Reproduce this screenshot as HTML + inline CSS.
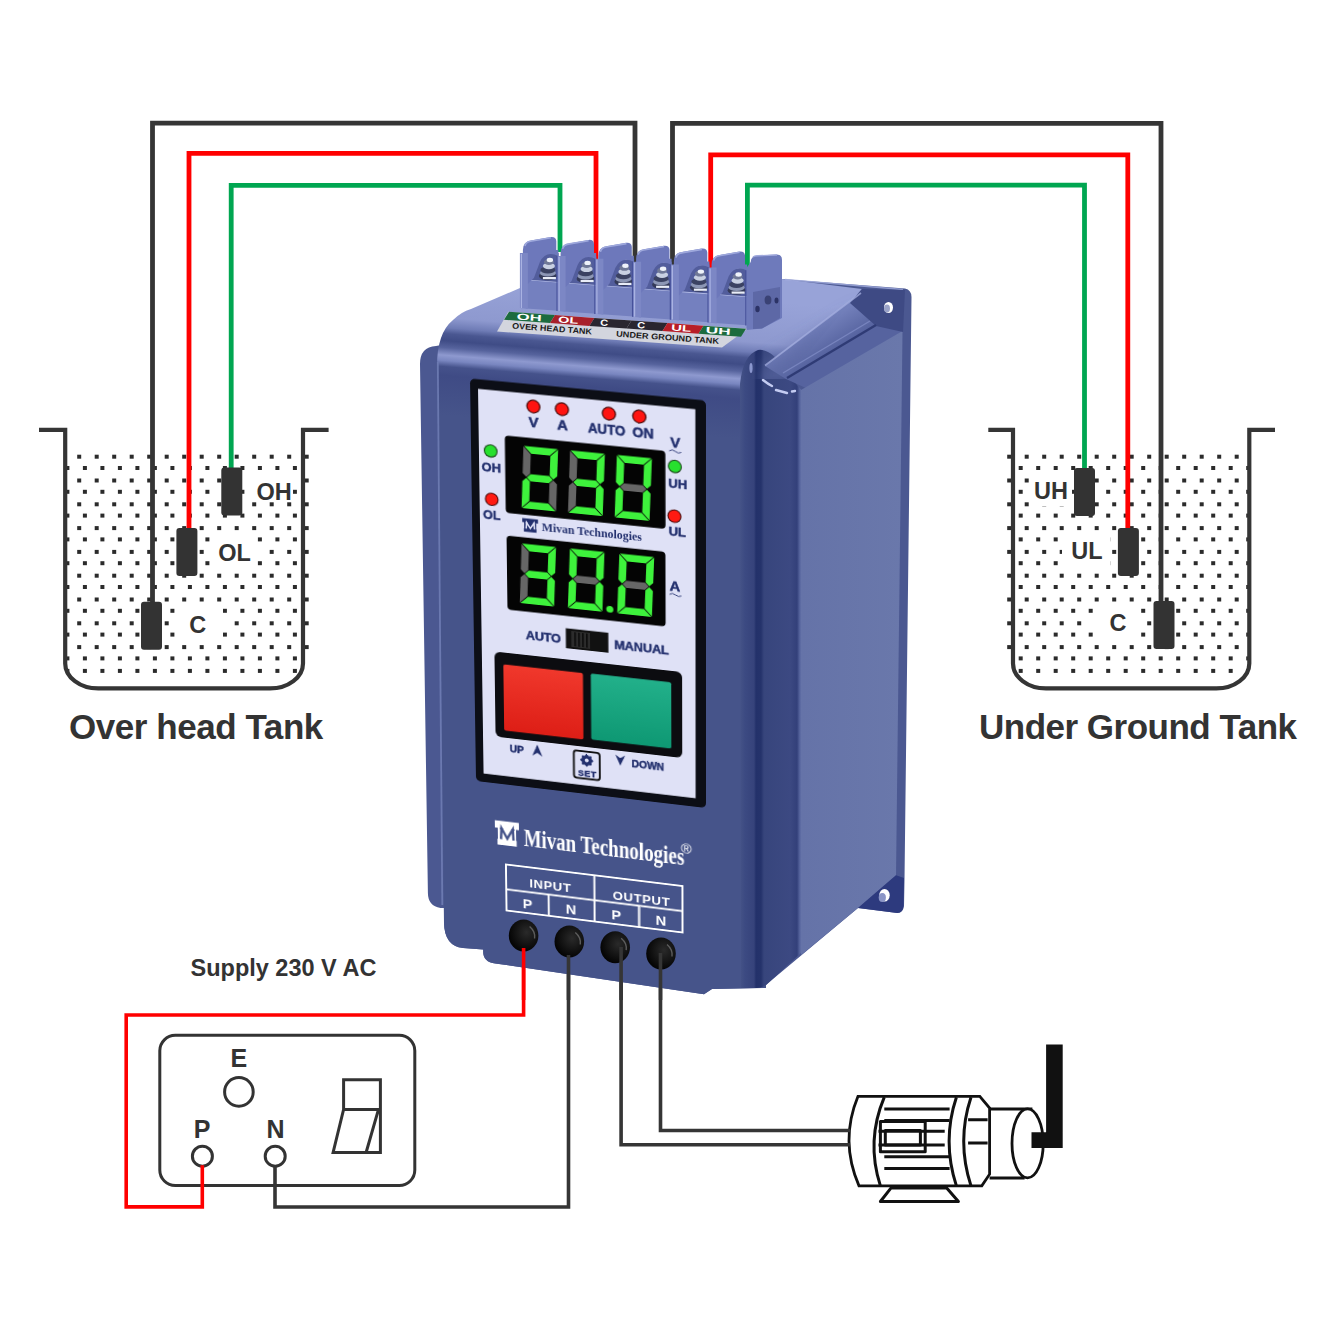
<!DOCTYPE html>
<html><head><meta charset="utf-8"><style>
html,body{margin:0;padding:0;background:#fff;width:1334px;height:1334px;overflow:hidden}
.abs{position:absolute;left:0;top:0}
text{font-family:'Liberation Sans',sans-serif}
text.serif{font-family:'Liberation Serif',serif}
</style></head><body>
<svg class="abs" width="1334" height="1334" viewBox="0 0 1334 1334">
<clipPath id="clipL"><path d="M65.2,440 V662.4 A33 25 0 0 0 99.2,686.4 H269 A33 25 0 0 0 309,662.4 V440 Z"/></clipPath>
<g fill="#2b2b2b" clip-path="url(#clipL)"><rect x="59.7" y="454.7" width="4" height="4"/><rect x="77.2" y="454.7" width="4" height="4"/><rect x="94.7" y="454.7" width="4" height="4"/><rect x="112.2" y="454.7" width="4" height="4"/><rect x="129.7" y="454.7" width="4" height="4"/><rect x="147.2" y="454.7" width="4" height="4"/><rect x="164.7" y="454.7" width="4" height="4"/><rect x="182.2" y="454.7" width="4" height="4"/><rect x="199.7" y="454.7" width="4" height="4"/><rect x="217.2" y="454.7" width="4" height="4"/><rect x="234.7" y="454.7" width="4" height="4"/><rect x="252.2" y="454.7" width="4" height="4"/><rect x="269.7" y="454.7" width="4" height="4"/><rect x="287.2" y="454.7" width="4" height="4"/><rect x="304.7" y="454.7" width="4" height="4"/><rect x="65.4" y="466.0" width="4" height="4"/><rect x="82.9" y="466.0" width="4" height="4"/><rect x="100.4" y="466.0" width="4" height="4"/><rect x="117.9" y="466.0" width="4" height="4"/><rect x="135.4" y="466.0" width="4" height="4"/><rect x="152.9" y="466.0" width="4" height="4"/><rect x="170.4" y="466.0" width="4" height="4"/><rect x="187.9" y="466.0" width="4" height="4"/><rect x="205.4" y="466.0" width="4" height="4"/><rect x="222.9" y="466.0" width="4" height="4"/><rect x="240.4" y="466.0" width="4" height="4"/><rect x="257.9" y="466.0" width="4" height="4"/><rect x="275.4" y="466.0" width="4" height="4"/><rect x="292.9" y="466.0" width="4" height="4"/><rect x="310.4" y="466.0" width="4" height="4"/><rect x="59.7" y="478.5" width="4" height="4"/><rect x="77.2" y="478.5" width="4" height="4"/><rect x="94.7" y="478.5" width="4" height="4"/><rect x="112.2" y="478.5" width="4" height="4"/><rect x="129.7" y="478.5" width="4" height="4"/><rect x="147.2" y="478.5" width="4" height="4"/><rect x="164.7" y="478.5" width="4" height="4"/><rect x="182.2" y="478.5" width="4" height="4"/><rect x="199.7" y="478.5" width="4" height="4"/><rect x="217.2" y="478.5" width="4" height="4"/><rect x="234.7" y="478.5" width="4" height="4"/><rect x="252.2" y="478.5" width="4" height="4"/><rect x="269.7" y="478.5" width="4" height="4"/><rect x="287.2" y="478.5" width="4" height="4"/><rect x="304.7" y="478.5" width="4" height="4"/><rect x="65.4" y="489.8" width="4" height="4"/><rect x="82.9" y="489.8" width="4" height="4"/><rect x="100.4" y="489.8" width="4" height="4"/><rect x="117.9" y="489.8" width="4" height="4"/><rect x="135.4" y="489.8" width="4" height="4"/><rect x="152.9" y="489.8" width="4" height="4"/><rect x="170.4" y="489.8" width="4" height="4"/><rect x="187.9" y="489.8" width="4" height="4"/><rect x="205.4" y="489.8" width="4" height="4"/><rect x="222.9" y="489.8" width="4" height="4"/><rect x="240.4" y="489.8" width="4" height="4"/><rect x="257.9" y="489.8" width="4" height="4"/><rect x="275.4" y="489.8" width="4" height="4"/><rect x="292.9" y="489.8" width="4" height="4"/><rect x="310.4" y="489.8" width="4" height="4"/><rect x="59.7" y="502.3" width="4" height="4"/><rect x="77.2" y="502.3" width="4" height="4"/><rect x="94.7" y="502.3" width="4" height="4"/><rect x="112.2" y="502.3" width="4" height="4"/><rect x="129.7" y="502.3" width="4" height="4"/><rect x="147.2" y="502.3" width="4" height="4"/><rect x="164.7" y="502.3" width="4" height="4"/><rect x="182.2" y="502.3" width="4" height="4"/><rect x="199.7" y="502.3" width="4" height="4"/><rect x="217.2" y="502.3" width="4" height="4"/><rect x="234.7" y="502.3" width="4" height="4"/><rect x="252.2" y="502.3" width="4" height="4"/><rect x="269.7" y="502.3" width="4" height="4"/><rect x="287.2" y="502.3" width="4" height="4"/><rect x="304.7" y="502.3" width="4" height="4"/><rect x="65.4" y="513.6" width="4" height="4"/><rect x="82.9" y="513.6" width="4" height="4"/><rect x="100.4" y="513.6" width="4" height="4"/><rect x="117.9" y="513.6" width="4" height="4"/><rect x="135.4" y="513.6" width="4" height="4"/><rect x="152.9" y="513.6" width="4" height="4"/><rect x="170.4" y="513.6" width="4" height="4"/><rect x="187.9" y="513.6" width="4" height="4"/><rect x="205.4" y="513.6" width="4" height="4"/><rect x="222.9" y="513.6" width="4" height="4"/><rect x="240.4" y="513.6" width="4" height="4"/><rect x="257.9" y="513.6" width="4" height="4"/><rect x="275.4" y="513.6" width="4" height="4"/><rect x="292.9" y="513.6" width="4" height="4"/><rect x="310.4" y="513.6" width="4" height="4"/><rect x="59.7" y="526.1" width="4" height="4"/><rect x="77.2" y="526.1" width="4" height="4"/><rect x="94.7" y="526.1" width="4" height="4"/><rect x="112.2" y="526.1" width="4" height="4"/><rect x="129.7" y="526.1" width="4" height="4"/><rect x="147.2" y="526.1" width="4" height="4"/><rect x="164.7" y="526.1" width="4" height="4"/><rect x="182.2" y="526.1" width="4" height="4"/><rect x="199.7" y="526.1" width="4" height="4"/><rect x="217.2" y="526.1" width="4" height="4"/><rect x="234.7" y="526.1" width="4" height="4"/><rect x="252.2" y="526.1" width="4" height="4"/><rect x="269.7" y="526.1" width="4" height="4"/><rect x="287.2" y="526.1" width="4" height="4"/><rect x="304.7" y="526.1" width="4" height="4"/><rect x="65.4" y="537.4" width="4" height="4"/><rect x="82.9" y="537.4" width="4" height="4"/><rect x="100.4" y="537.4" width="4" height="4"/><rect x="117.9" y="537.4" width="4" height="4"/><rect x="135.4" y="537.4" width="4" height="4"/><rect x="152.9" y="537.4" width="4" height="4"/><rect x="170.4" y="537.4" width="4" height="4"/><rect x="187.9" y="537.4" width="4" height="4"/><rect x="205.4" y="537.4" width="4" height="4"/><rect x="222.9" y="537.4" width="4" height="4"/><rect x="240.4" y="537.4" width="4" height="4"/><rect x="257.9" y="537.4" width="4" height="4"/><rect x="275.4" y="537.4" width="4" height="4"/><rect x="292.9" y="537.4" width="4" height="4"/><rect x="310.4" y="537.4" width="4" height="4"/><rect x="59.7" y="549.9" width="4" height="4"/><rect x="77.2" y="549.9" width="4" height="4"/><rect x="94.7" y="549.9" width="4" height="4"/><rect x="112.2" y="549.9" width="4" height="4"/><rect x="129.7" y="549.9" width="4" height="4"/><rect x="147.2" y="549.9" width="4" height="4"/><rect x="164.7" y="549.9" width="4" height="4"/><rect x="182.2" y="549.9" width="4" height="4"/><rect x="199.7" y="549.9" width="4" height="4"/><rect x="217.2" y="549.9" width="4" height="4"/><rect x="234.7" y="549.9" width="4" height="4"/><rect x="252.2" y="549.9" width="4" height="4"/><rect x="269.7" y="549.9" width="4" height="4"/><rect x="287.2" y="549.9" width="4" height="4"/><rect x="304.7" y="549.9" width="4" height="4"/><rect x="65.4" y="561.2" width="4" height="4"/><rect x="82.9" y="561.2" width="4" height="4"/><rect x="100.4" y="561.2" width="4" height="4"/><rect x="117.9" y="561.2" width="4" height="4"/><rect x="135.4" y="561.2" width="4" height="4"/><rect x="152.9" y="561.2" width="4" height="4"/><rect x="170.4" y="561.2" width="4" height="4"/><rect x="187.9" y="561.2" width="4" height="4"/><rect x="205.4" y="561.2" width="4" height="4"/><rect x="222.9" y="561.2" width="4" height="4"/><rect x="240.4" y="561.2" width="4" height="4"/><rect x="257.9" y="561.2" width="4" height="4"/><rect x="275.4" y="561.2" width="4" height="4"/><rect x="292.9" y="561.2" width="4" height="4"/><rect x="310.4" y="561.2" width="4" height="4"/><rect x="59.7" y="573.7" width="4" height="4"/><rect x="77.2" y="573.7" width="4" height="4"/><rect x="94.7" y="573.7" width="4" height="4"/><rect x="112.2" y="573.7" width="4" height="4"/><rect x="129.7" y="573.7" width="4" height="4"/><rect x="147.2" y="573.7" width="4" height="4"/><rect x="164.7" y="573.7" width="4" height="4"/><rect x="182.2" y="573.7" width="4" height="4"/><rect x="199.7" y="573.7" width="4" height="4"/><rect x="217.2" y="573.7" width="4" height="4"/><rect x="234.7" y="573.7" width="4" height="4"/><rect x="252.2" y="573.7" width="4" height="4"/><rect x="269.7" y="573.7" width="4" height="4"/><rect x="287.2" y="573.7" width="4" height="4"/><rect x="304.7" y="573.7" width="4" height="4"/><rect x="65.4" y="585.0" width="4" height="4"/><rect x="82.9" y="585.0" width="4" height="4"/><rect x="100.4" y="585.0" width="4" height="4"/><rect x="117.9" y="585.0" width="4" height="4"/><rect x="135.4" y="585.0" width="4" height="4"/><rect x="152.9" y="585.0" width="4" height="4"/><rect x="170.4" y="585.0" width="4" height="4"/><rect x="187.9" y="585.0" width="4" height="4"/><rect x="205.4" y="585.0" width="4" height="4"/><rect x="222.9" y="585.0" width="4" height="4"/><rect x="240.4" y="585.0" width="4" height="4"/><rect x="257.9" y="585.0" width="4" height="4"/><rect x="275.4" y="585.0" width="4" height="4"/><rect x="292.9" y="585.0" width="4" height="4"/><rect x="310.4" y="585.0" width="4" height="4"/><rect x="59.7" y="597.5" width="4" height="4"/><rect x="77.2" y="597.5" width="4" height="4"/><rect x="94.7" y="597.5" width="4" height="4"/><rect x="112.2" y="597.5" width="4" height="4"/><rect x="129.7" y="597.5" width="4" height="4"/><rect x="147.2" y="597.5" width="4" height="4"/><rect x="164.7" y="597.5" width="4" height="4"/><rect x="182.2" y="597.5" width="4" height="4"/><rect x="199.7" y="597.5" width="4" height="4"/><rect x="217.2" y="597.5" width="4" height="4"/><rect x="234.7" y="597.5" width="4" height="4"/><rect x="252.2" y="597.5" width="4" height="4"/><rect x="269.7" y="597.5" width="4" height="4"/><rect x="287.2" y="597.5" width="4" height="4"/><rect x="304.7" y="597.5" width="4" height="4"/><rect x="65.4" y="608.8" width="4" height="4"/><rect x="82.9" y="608.8" width="4" height="4"/><rect x="100.4" y="608.8" width="4" height="4"/><rect x="117.9" y="608.8" width="4" height="4"/><rect x="135.4" y="608.8" width="4" height="4"/><rect x="152.9" y="608.8" width="4" height="4"/><rect x="170.4" y="608.8" width="4" height="4"/><rect x="187.9" y="608.8" width="4" height="4"/><rect x="205.4" y="608.8" width="4" height="4"/><rect x="222.9" y="608.8" width="4" height="4"/><rect x="240.4" y="608.8" width="4" height="4"/><rect x="257.9" y="608.8" width="4" height="4"/><rect x="275.4" y="608.8" width="4" height="4"/><rect x="292.9" y="608.8" width="4" height="4"/><rect x="310.4" y="608.8" width="4" height="4"/><rect x="59.7" y="621.3" width="4" height="4"/><rect x="77.2" y="621.3" width="4" height="4"/><rect x="94.7" y="621.3" width="4" height="4"/><rect x="112.2" y="621.3" width="4" height="4"/><rect x="129.7" y="621.3" width="4" height="4"/><rect x="147.2" y="621.3" width="4" height="4"/><rect x="164.7" y="621.3" width="4" height="4"/><rect x="182.2" y="621.3" width="4" height="4"/><rect x="199.7" y="621.3" width="4" height="4"/><rect x="217.2" y="621.3" width="4" height="4"/><rect x="234.7" y="621.3" width="4" height="4"/><rect x="252.2" y="621.3" width="4" height="4"/><rect x="269.7" y="621.3" width="4" height="4"/><rect x="287.2" y="621.3" width="4" height="4"/><rect x="304.7" y="621.3" width="4" height="4"/><rect x="65.4" y="632.6" width="4" height="4"/><rect x="82.9" y="632.6" width="4" height="4"/><rect x="100.4" y="632.6" width="4" height="4"/><rect x="117.9" y="632.6" width="4" height="4"/><rect x="135.4" y="632.6" width="4" height="4"/><rect x="152.9" y="632.6" width="4" height="4"/><rect x="170.4" y="632.6" width="4" height="4"/><rect x="187.9" y="632.6" width="4" height="4"/><rect x="205.4" y="632.6" width="4" height="4"/><rect x="222.9" y="632.6" width="4" height="4"/><rect x="240.4" y="632.6" width="4" height="4"/><rect x="257.9" y="632.6" width="4" height="4"/><rect x="275.4" y="632.6" width="4" height="4"/><rect x="292.9" y="632.6" width="4" height="4"/><rect x="310.4" y="632.6" width="4" height="4"/><rect x="59.7" y="645.1" width="4" height="4"/><rect x="77.2" y="645.1" width="4" height="4"/><rect x="94.7" y="645.1" width="4" height="4"/><rect x="112.2" y="645.1" width="4" height="4"/><rect x="129.7" y="645.1" width="4" height="4"/><rect x="147.2" y="645.1" width="4" height="4"/><rect x="164.7" y="645.1" width="4" height="4"/><rect x="182.2" y="645.1" width="4" height="4"/><rect x="199.7" y="645.1" width="4" height="4"/><rect x="217.2" y="645.1" width="4" height="4"/><rect x="234.7" y="645.1" width="4" height="4"/><rect x="252.2" y="645.1" width="4" height="4"/><rect x="269.7" y="645.1" width="4" height="4"/><rect x="287.2" y="645.1" width="4" height="4"/><rect x="304.7" y="645.1" width="4" height="4"/><rect x="65.4" y="656.4" width="4" height="4"/><rect x="82.9" y="656.4" width="4" height="4"/><rect x="100.4" y="656.4" width="4" height="4"/><rect x="117.9" y="656.4" width="4" height="4"/><rect x="135.4" y="656.4" width="4" height="4"/><rect x="152.9" y="656.4" width="4" height="4"/><rect x="170.4" y="656.4" width="4" height="4"/><rect x="187.9" y="656.4" width="4" height="4"/><rect x="205.4" y="656.4" width="4" height="4"/><rect x="222.9" y="656.4" width="4" height="4"/><rect x="240.4" y="656.4" width="4" height="4"/><rect x="257.9" y="656.4" width="4" height="4"/><rect x="275.4" y="656.4" width="4" height="4"/><rect x="292.9" y="656.4" width="4" height="4"/><rect x="310.4" y="656.4" width="4" height="4"/><rect x="65.4" y="668.9" width="4" height="4"/><rect x="82.9" y="668.9" width="4" height="4"/><rect x="100.4" y="668.9" width="4" height="4"/><rect x="117.9" y="668.9" width="4" height="4"/><rect x="135.4" y="668.9" width="4" height="4"/><rect x="152.9" y="668.9" width="4" height="4"/><rect x="170.4" y="668.9" width="4" height="4"/><rect x="187.9" y="668.9" width="4" height="4"/><rect x="205.4" y="668.9" width="4" height="4"/><rect x="222.9" y="668.9" width="4" height="4"/><rect x="240.4" y="668.9" width="4" height="4"/><rect x="257.9" y="668.9" width="4" height="4"/><rect x="275.4" y="668.9" width="4" height="4"/><rect x="292.9" y="668.9" width="4" height="4"/><rect x="310.4" y="668.9" width="4" height="4"/></g>
<path d="M39,429.8 H65.2 V663.4 A33 25 0 0 0 98.2,688.4 H270 A33 25 0 0 0 303,663.4 V429.8 H328.6" fill="none" stroke="#353535" stroke-width="4.2"/>
<clipPath id="clipR"><path d="M1006,440 V662.4 A33 25 0 0 0 1047,686.4 H1215.3 A33 25 0 0 0 1249.3,662.4 V440 Z"/></clipPath>
<g fill="#2b2b2b" clip-path="url(#clipR)"><rect x="1007.2" y="454.7" width="4" height="4"/><rect x="1024.7" y="454.7" width="4" height="4"/><rect x="1042.2" y="454.7" width="4" height="4"/><rect x="1059.7" y="454.7" width="4" height="4"/><rect x="1077.2" y="454.7" width="4" height="4"/><rect x="1094.7" y="454.7" width="4" height="4"/><rect x="1112.2" y="454.7" width="4" height="4"/><rect x="1129.7" y="454.7" width="4" height="4"/><rect x="1147.2" y="454.7" width="4" height="4"/><rect x="1164.7" y="454.7" width="4" height="4"/><rect x="1182.2" y="454.7" width="4" height="4"/><rect x="1199.7" y="454.7" width="4" height="4"/><rect x="1217.2" y="454.7" width="4" height="4"/><rect x="1234.7" y="454.7" width="4" height="4"/><rect x="1252.2" y="454.7" width="4" height="4"/><rect x="1001.2" y="466.0" width="4" height="4"/><rect x="1018.7" y="466.0" width="4" height="4"/><rect x="1036.2" y="466.0" width="4" height="4"/><rect x="1053.7" y="466.0" width="4" height="4"/><rect x="1071.2" y="466.0" width="4" height="4"/><rect x="1088.7" y="466.0" width="4" height="4"/><rect x="1106.2" y="466.0" width="4" height="4"/><rect x="1123.7" y="466.0" width="4" height="4"/><rect x="1141.2" y="466.0" width="4" height="4"/><rect x="1158.7" y="466.0" width="4" height="4"/><rect x="1176.2" y="466.0" width="4" height="4"/><rect x="1193.7" y="466.0" width="4" height="4"/><rect x="1211.2" y="466.0" width="4" height="4"/><rect x="1228.7" y="466.0" width="4" height="4"/><rect x="1246.2" y="466.0" width="4" height="4"/><rect x="1007.2" y="478.5" width="4" height="4"/><rect x="1024.7" y="478.5" width="4" height="4"/><rect x="1042.2" y="478.5" width="4" height="4"/><rect x="1059.7" y="478.5" width="4" height="4"/><rect x="1077.2" y="478.5" width="4" height="4"/><rect x="1094.7" y="478.5" width="4" height="4"/><rect x="1112.2" y="478.5" width="4" height="4"/><rect x="1129.7" y="478.5" width="4" height="4"/><rect x="1147.2" y="478.5" width="4" height="4"/><rect x="1164.7" y="478.5" width="4" height="4"/><rect x="1182.2" y="478.5" width="4" height="4"/><rect x="1199.7" y="478.5" width="4" height="4"/><rect x="1217.2" y="478.5" width="4" height="4"/><rect x="1234.7" y="478.5" width="4" height="4"/><rect x="1252.2" y="478.5" width="4" height="4"/><rect x="1001.2" y="489.8" width="4" height="4"/><rect x="1018.7" y="489.8" width="4" height="4"/><rect x="1036.2" y="489.8" width="4" height="4"/><rect x="1053.7" y="489.8" width="4" height="4"/><rect x="1071.2" y="489.8" width="4" height="4"/><rect x="1088.7" y="489.8" width="4" height="4"/><rect x="1106.2" y="489.8" width="4" height="4"/><rect x="1123.7" y="489.8" width="4" height="4"/><rect x="1141.2" y="489.8" width="4" height="4"/><rect x="1158.7" y="489.8" width="4" height="4"/><rect x="1176.2" y="489.8" width="4" height="4"/><rect x="1193.7" y="489.8" width="4" height="4"/><rect x="1211.2" y="489.8" width="4" height="4"/><rect x="1228.7" y="489.8" width="4" height="4"/><rect x="1246.2" y="489.8" width="4" height="4"/><rect x="1007.2" y="502.3" width="4" height="4"/><rect x="1024.7" y="502.3" width="4" height="4"/><rect x="1042.2" y="502.3" width="4" height="4"/><rect x="1059.7" y="502.3" width="4" height="4"/><rect x="1077.2" y="502.3" width="4" height="4"/><rect x="1094.7" y="502.3" width="4" height="4"/><rect x="1112.2" y="502.3" width="4" height="4"/><rect x="1129.7" y="502.3" width="4" height="4"/><rect x="1147.2" y="502.3" width="4" height="4"/><rect x="1164.7" y="502.3" width="4" height="4"/><rect x="1182.2" y="502.3" width="4" height="4"/><rect x="1199.7" y="502.3" width="4" height="4"/><rect x="1217.2" y="502.3" width="4" height="4"/><rect x="1234.7" y="502.3" width="4" height="4"/><rect x="1252.2" y="502.3" width="4" height="4"/><rect x="1001.2" y="513.6" width="4" height="4"/><rect x="1018.7" y="513.6" width="4" height="4"/><rect x="1036.2" y="513.6" width="4" height="4"/><rect x="1053.7" y="513.6" width="4" height="4"/><rect x="1071.2" y="513.6" width="4" height="4"/><rect x="1088.7" y="513.6" width="4" height="4"/><rect x="1106.2" y="513.6" width="4" height="4"/><rect x="1123.7" y="513.6" width="4" height="4"/><rect x="1141.2" y="513.6" width="4" height="4"/><rect x="1158.7" y="513.6" width="4" height="4"/><rect x="1176.2" y="513.6" width="4" height="4"/><rect x="1193.7" y="513.6" width="4" height="4"/><rect x="1211.2" y="513.6" width="4" height="4"/><rect x="1228.7" y="513.6" width="4" height="4"/><rect x="1246.2" y="513.6" width="4" height="4"/><rect x="1007.2" y="526.1" width="4" height="4"/><rect x="1024.7" y="526.1" width="4" height="4"/><rect x="1042.2" y="526.1" width="4" height="4"/><rect x="1059.7" y="526.1" width="4" height="4"/><rect x="1077.2" y="526.1" width="4" height="4"/><rect x="1094.7" y="526.1" width="4" height="4"/><rect x="1112.2" y="526.1" width="4" height="4"/><rect x="1129.7" y="526.1" width="4" height="4"/><rect x="1147.2" y="526.1" width="4" height="4"/><rect x="1164.7" y="526.1" width="4" height="4"/><rect x="1182.2" y="526.1" width="4" height="4"/><rect x="1199.7" y="526.1" width="4" height="4"/><rect x="1217.2" y="526.1" width="4" height="4"/><rect x="1234.7" y="526.1" width="4" height="4"/><rect x="1252.2" y="526.1" width="4" height="4"/><rect x="1001.2" y="537.4" width="4" height="4"/><rect x="1018.7" y="537.4" width="4" height="4"/><rect x="1036.2" y="537.4" width="4" height="4"/><rect x="1053.7" y="537.4" width="4" height="4"/><rect x="1071.2" y="537.4" width="4" height="4"/><rect x="1088.7" y="537.4" width="4" height="4"/><rect x="1106.2" y="537.4" width="4" height="4"/><rect x="1123.7" y="537.4" width="4" height="4"/><rect x="1141.2" y="537.4" width="4" height="4"/><rect x="1158.7" y="537.4" width="4" height="4"/><rect x="1176.2" y="537.4" width="4" height="4"/><rect x="1193.7" y="537.4" width="4" height="4"/><rect x="1211.2" y="537.4" width="4" height="4"/><rect x="1228.7" y="537.4" width="4" height="4"/><rect x="1246.2" y="537.4" width="4" height="4"/><rect x="1007.2" y="549.9" width="4" height="4"/><rect x="1024.7" y="549.9" width="4" height="4"/><rect x="1042.2" y="549.9" width="4" height="4"/><rect x="1059.7" y="549.9" width="4" height="4"/><rect x="1077.2" y="549.9" width="4" height="4"/><rect x="1094.7" y="549.9" width="4" height="4"/><rect x="1112.2" y="549.9" width="4" height="4"/><rect x="1129.7" y="549.9" width="4" height="4"/><rect x="1147.2" y="549.9" width="4" height="4"/><rect x="1164.7" y="549.9" width="4" height="4"/><rect x="1182.2" y="549.9" width="4" height="4"/><rect x="1199.7" y="549.9" width="4" height="4"/><rect x="1217.2" y="549.9" width="4" height="4"/><rect x="1234.7" y="549.9" width="4" height="4"/><rect x="1252.2" y="549.9" width="4" height="4"/><rect x="1001.2" y="561.2" width="4" height="4"/><rect x="1018.7" y="561.2" width="4" height="4"/><rect x="1036.2" y="561.2" width="4" height="4"/><rect x="1053.7" y="561.2" width="4" height="4"/><rect x="1071.2" y="561.2" width="4" height="4"/><rect x="1088.7" y="561.2" width="4" height="4"/><rect x="1106.2" y="561.2" width="4" height="4"/><rect x="1123.7" y="561.2" width="4" height="4"/><rect x="1141.2" y="561.2" width="4" height="4"/><rect x="1158.7" y="561.2" width="4" height="4"/><rect x="1176.2" y="561.2" width="4" height="4"/><rect x="1193.7" y="561.2" width="4" height="4"/><rect x="1211.2" y="561.2" width="4" height="4"/><rect x="1228.7" y="561.2" width="4" height="4"/><rect x="1246.2" y="561.2" width="4" height="4"/><rect x="1007.2" y="573.7" width="4" height="4"/><rect x="1024.7" y="573.7" width="4" height="4"/><rect x="1042.2" y="573.7" width="4" height="4"/><rect x="1059.7" y="573.7" width="4" height="4"/><rect x="1077.2" y="573.7" width="4" height="4"/><rect x="1094.7" y="573.7" width="4" height="4"/><rect x="1112.2" y="573.7" width="4" height="4"/><rect x="1129.7" y="573.7" width="4" height="4"/><rect x="1147.2" y="573.7" width="4" height="4"/><rect x="1164.7" y="573.7" width="4" height="4"/><rect x="1182.2" y="573.7" width="4" height="4"/><rect x="1199.7" y="573.7" width="4" height="4"/><rect x="1217.2" y="573.7" width="4" height="4"/><rect x="1234.7" y="573.7" width="4" height="4"/><rect x="1252.2" y="573.7" width="4" height="4"/><rect x="1001.2" y="585.0" width="4" height="4"/><rect x="1018.7" y="585.0" width="4" height="4"/><rect x="1036.2" y="585.0" width="4" height="4"/><rect x="1053.7" y="585.0" width="4" height="4"/><rect x="1071.2" y="585.0" width="4" height="4"/><rect x="1088.7" y="585.0" width="4" height="4"/><rect x="1106.2" y="585.0" width="4" height="4"/><rect x="1123.7" y="585.0" width="4" height="4"/><rect x="1141.2" y="585.0" width="4" height="4"/><rect x="1158.7" y="585.0" width="4" height="4"/><rect x="1176.2" y="585.0" width="4" height="4"/><rect x="1193.7" y="585.0" width="4" height="4"/><rect x="1211.2" y="585.0" width="4" height="4"/><rect x="1228.7" y="585.0" width="4" height="4"/><rect x="1246.2" y="585.0" width="4" height="4"/><rect x="1007.2" y="597.5" width="4" height="4"/><rect x="1024.7" y="597.5" width="4" height="4"/><rect x="1042.2" y="597.5" width="4" height="4"/><rect x="1059.7" y="597.5" width="4" height="4"/><rect x="1077.2" y="597.5" width="4" height="4"/><rect x="1094.7" y="597.5" width="4" height="4"/><rect x="1112.2" y="597.5" width="4" height="4"/><rect x="1129.7" y="597.5" width="4" height="4"/><rect x="1147.2" y="597.5" width="4" height="4"/><rect x="1164.7" y="597.5" width="4" height="4"/><rect x="1182.2" y="597.5" width="4" height="4"/><rect x="1199.7" y="597.5" width="4" height="4"/><rect x="1217.2" y="597.5" width="4" height="4"/><rect x="1234.7" y="597.5" width="4" height="4"/><rect x="1252.2" y="597.5" width="4" height="4"/><rect x="1001.2" y="608.8" width="4" height="4"/><rect x="1018.7" y="608.8" width="4" height="4"/><rect x="1036.2" y="608.8" width="4" height="4"/><rect x="1053.7" y="608.8" width="4" height="4"/><rect x="1071.2" y="608.8" width="4" height="4"/><rect x="1088.7" y="608.8" width="4" height="4"/><rect x="1106.2" y="608.8" width="4" height="4"/><rect x="1123.7" y="608.8" width="4" height="4"/><rect x="1141.2" y="608.8" width="4" height="4"/><rect x="1158.7" y="608.8" width="4" height="4"/><rect x="1176.2" y="608.8" width="4" height="4"/><rect x="1193.7" y="608.8" width="4" height="4"/><rect x="1211.2" y="608.8" width="4" height="4"/><rect x="1228.7" y="608.8" width="4" height="4"/><rect x="1246.2" y="608.8" width="4" height="4"/><rect x="1007.2" y="621.3" width="4" height="4"/><rect x="1024.7" y="621.3" width="4" height="4"/><rect x="1042.2" y="621.3" width="4" height="4"/><rect x="1059.7" y="621.3" width="4" height="4"/><rect x="1077.2" y="621.3" width="4" height="4"/><rect x="1094.7" y="621.3" width="4" height="4"/><rect x="1112.2" y="621.3" width="4" height="4"/><rect x="1129.7" y="621.3" width="4" height="4"/><rect x="1147.2" y="621.3" width="4" height="4"/><rect x="1164.7" y="621.3" width="4" height="4"/><rect x="1182.2" y="621.3" width="4" height="4"/><rect x="1199.7" y="621.3" width="4" height="4"/><rect x="1217.2" y="621.3" width="4" height="4"/><rect x="1234.7" y="621.3" width="4" height="4"/><rect x="1252.2" y="621.3" width="4" height="4"/><rect x="1001.2" y="632.6" width="4" height="4"/><rect x="1018.7" y="632.6" width="4" height="4"/><rect x="1036.2" y="632.6" width="4" height="4"/><rect x="1053.7" y="632.6" width="4" height="4"/><rect x="1071.2" y="632.6" width="4" height="4"/><rect x="1088.7" y="632.6" width="4" height="4"/><rect x="1106.2" y="632.6" width="4" height="4"/><rect x="1123.7" y="632.6" width="4" height="4"/><rect x="1141.2" y="632.6" width="4" height="4"/><rect x="1158.7" y="632.6" width="4" height="4"/><rect x="1176.2" y="632.6" width="4" height="4"/><rect x="1193.7" y="632.6" width="4" height="4"/><rect x="1211.2" y="632.6" width="4" height="4"/><rect x="1228.7" y="632.6" width="4" height="4"/><rect x="1246.2" y="632.6" width="4" height="4"/><rect x="1007.2" y="645.1" width="4" height="4"/><rect x="1024.7" y="645.1" width="4" height="4"/><rect x="1042.2" y="645.1" width="4" height="4"/><rect x="1059.7" y="645.1" width="4" height="4"/><rect x="1077.2" y="645.1" width="4" height="4"/><rect x="1094.7" y="645.1" width="4" height="4"/><rect x="1112.2" y="645.1" width="4" height="4"/><rect x="1129.7" y="645.1" width="4" height="4"/><rect x="1147.2" y="645.1" width="4" height="4"/><rect x="1164.7" y="645.1" width="4" height="4"/><rect x="1182.2" y="645.1" width="4" height="4"/><rect x="1199.7" y="645.1" width="4" height="4"/><rect x="1217.2" y="645.1" width="4" height="4"/><rect x="1234.7" y="645.1" width="4" height="4"/><rect x="1252.2" y="645.1" width="4" height="4"/><rect x="1001.2" y="656.4" width="4" height="4"/><rect x="1018.7" y="656.4" width="4" height="4"/><rect x="1036.2" y="656.4" width="4" height="4"/><rect x="1053.7" y="656.4" width="4" height="4"/><rect x="1071.2" y="656.4" width="4" height="4"/><rect x="1088.7" y="656.4" width="4" height="4"/><rect x="1106.2" y="656.4" width="4" height="4"/><rect x="1123.7" y="656.4" width="4" height="4"/><rect x="1141.2" y="656.4" width="4" height="4"/><rect x="1158.7" y="656.4" width="4" height="4"/><rect x="1176.2" y="656.4" width="4" height="4"/><rect x="1193.7" y="656.4" width="4" height="4"/><rect x="1211.2" y="656.4" width="4" height="4"/><rect x="1228.7" y="656.4" width="4" height="4"/><rect x="1246.2" y="656.4" width="4" height="4"/><rect x="1001.2" y="668.9" width="4" height="4"/><rect x="1018.7" y="668.9" width="4" height="4"/><rect x="1036.2" y="668.9" width="4" height="4"/><rect x="1053.7" y="668.9" width="4" height="4"/><rect x="1071.2" y="668.9" width="4" height="4"/><rect x="1088.7" y="668.9" width="4" height="4"/><rect x="1106.2" y="668.9" width="4" height="4"/><rect x="1123.7" y="668.9" width="4" height="4"/><rect x="1141.2" y="668.9" width="4" height="4"/><rect x="1158.7" y="668.9" width="4" height="4"/><rect x="1176.2" y="668.9" width="4" height="4"/><rect x="1193.7" y="668.9" width="4" height="4"/><rect x="1211.2" y="668.9" width="4" height="4"/><rect x="1228.7" y="668.9" width="4" height="4"/><rect x="1246.2" y="668.9" width="4" height="4"/></g>
<path d="M988.3,429.8 H1013 V663.4 A33 25 0 0 0 1046,688.4 H1216.3 A33 25 0 0 0 1249.3,663.4 V429.8 H1275" fill="none" stroke="#353535" stroke-width="4.2"/>
<rect x="251" y="474" width="42" height="24" fill="#fff"/>
<rect x="216" y="536" width="41" height="33" fill="#fff"/>
<rect x="179" y="606" width="44" height="35" fill="#fff"/>
<rect x="1029" y="474" width="43" height="32" fill="#fff"/>
<rect x="1062" y="536" width="48" height="30" fill="#fff"/>
<rect x="1093" y="606" width="45" height="36" fill="#fff"/>
<text x="274" y="500" text-anchor="middle" style="font-weight:bold;fill:#333;font-size:23.5px">OH</text>
<text x="234.5" y="560.5" text-anchor="middle" style="font-weight:bold;fill:#333;font-size:23.5px">OL</text>
<text x="197.8" y="632.5" text-anchor="middle" style="font-weight:bold;fill:#333;font-size:23.5px">C</text>
<text x="1051" y="499" text-anchor="middle" style="font-weight:bold;fill:#333;font-size:23.5px">UH</text>
<text x="1087" y="559" text-anchor="middle" style="font-weight:bold;fill:#333;font-size:23.5px">UL</text>
<text x="1118" y="631" text-anchor="middle" style="font-weight:bold;fill:#333;font-size:23.5px">C</text>
<text x="69" y="738.8" style="font-weight:bold;fill:#333;font-size:35px;letter-spacing:-0.44px">Over head Tank</text>
<text x="979" y="738.8" style="font-weight:bold;fill:#333;font-size:35px;letter-spacing:-0.5px">Under Ground Tank</text>
<text x="190.5" y="975.6" style="font-weight:bold;fill:#333;font-size:23.5px;letter-spacing:0px">Supply 230 V AC</text>
<rect x="159.8" y="1035.3" width="255" height="150.3" rx="15.5" fill="none" stroke="#333" stroke-width="3"/>
<circle cx="238.9" cy="1091.9" r="14.3" fill="none" stroke="#333" stroke-width="3"/>
<circle cx="202.4" cy="1156.2" r="10" fill="none" stroke="#333" stroke-width="3"/>
<circle cx="275.2" cy="1156.2" r="10" fill="none" stroke="#333" stroke-width="3"/>
<path d="M343.6,1109.4 V1079.8 H380.4 V1152.5 H333.1 L343.6,1109.4 H380.4 M378.5,1109.4 L366.1,1152.5" fill="none" stroke="#333" stroke-width="3"/>
<text x="238.9" y="1067" text-anchor="middle" style="font-weight:bold;fill:#333;font-size:25px">E</text>
<text x="202" y="1138.2" text-anchor="middle" style="font-weight:bold;fill:#333;font-size:25px">P</text>
<text x="275.5" y="1138.2" text-anchor="middle" style="font-weight:bold;fill:#333;font-size:25px">N</text>
<path d="M858.0,1096.3 L979.8,1096.3 L989.6,1108.0 L989.6,1174.2 L981.8,1185.9 L859.0,1185.9 Q839.5,1141.1 858.0,1096.3 Z" fill="#fff" stroke="#111" stroke-width="2.8"/>
<path d="M884.3,1097.2 Q865.8,1141.1 880.4,1185.9" fill="none" stroke="#111" stroke-width="3" stroke-linejoin="round"/>
<path d="M956.4,1097.2 Q941.8,1141.1 956.4,1185.9" fill="none" stroke="#111" stroke-width="3" stroke-linejoin="round"/>
<path d="M971.0,1097.2 Q956.4,1141.1 971.0,1185.9" fill="none" stroke="#111" stroke-width="3" stroke-linejoin="round"/>
<path d="M884.3,1108.9 L949.6,1108.9" fill="none" stroke="#111" stroke-width="3" stroke-linejoin="round"/>
<path d="M884.3,1120.6 L949.6,1120.6" fill="none" stroke="#111" stroke-width="3" stroke-linejoin="round"/>
<path d="M884.3,1156.7 L949.6,1156.7" fill="none" stroke="#111" stroke-width="3" stroke-linejoin="round"/>
<path d="M884.3,1168.4 L949.6,1168.4" fill="none" stroke="#111" stroke-width="3" stroke-linejoin="round"/>
<path d="M878.5,1131.3 L944.7,1131.3 M878.5,1145.0 L944.7,1145.0" fill="none" stroke="#111" stroke-width="3" stroke-linejoin="round"/>
<rect x="880.4" y="1121.6" width="44.8" height="30.2" fill="none" stroke="#111" stroke-width="3" stroke-linejoin="round"/>
<rect x="885.3" y="1130.4" width="35.1" height="14.6" fill="none" stroke="#111" stroke-width="3" stroke-linejoin="round"/>
<path d="M968.1,1119.7 L987.6,1119.7 M968.1,1143.0 L987.6,1143.0" fill="none" stroke="#111" stroke-width="3" stroke-linejoin="round"/>
<path d="M989.6,1108.9 L1032.4,1108.9 M989.6,1178.1 L1024.6,1178.1" fill="none" stroke="#111" stroke-width="3" stroke-linejoin="round"/>
<ellipse cx="1027.6" cy="1143.4" rx="15.6" ry="34.5" fill="#fff" stroke="#111" stroke-width="2.8"/>
<path d="M891.1,1187.9 L946.7,1187.9 L958.4,1201.5 L880.4,1201.5 Z" fill="none" stroke="#111" stroke-width="3" stroke-linejoin="round"/>
<path d="M1046.1,1044.6 h16.6 v103.3 h-31.2 v-15.6 h14.6 Z" fill="#111"/>
<path d="M523.6,945 V1015 H126.2 V1206.9 H202.3 V1165.3" stroke="#f00" stroke-width="3.6" fill="none"/>
<path d="M568.5,942 V1207 H275 V1165.3" stroke="#353535" stroke-width="3.6" fill="none"/>
<path d="M621.1,948 V1144.8 H850" stroke="#353535" stroke-width="3.6" fill="none"/>
<path d="M660.5,955 V1130.5 H850" stroke="#353535" stroke-width="3.6" fill="none"/>
<path d="M635,262 V123.2 H152.5 V604" stroke="#353535" stroke-width="4.8" fill="none" stroke-linejoin="miter"/>
<path d="M596,262 V153.3 H189 V530" stroke="#f00" stroke-width="4.8" fill="none" stroke-linejoin="miter"/>
<path d="M560,252 V185.3 H231.2 V470" stroke="#00a651" stroke-width="4.8" fill="none" stroke-linejoin="miter"/>
<path d="M672.5,265 V123.4 H1161 V603" stroke="#353535" stroke-width="4.8" fill="none" stroke-linejoin="miter"/>
<path d="M710.7,268 V154.8 H1127.8 V530" stroke="#f00" stroke-width="4.8" fill="none" stroke-linejoin="miter"/>
<path d="M747.4,272 V185.2 H1084.5 V470" stroke="#00a651" stroke-width="4.8" fill="none" stroke-linejoin="miter"/>
<rect x="141" y="601.7" width="21" height="48" rx="3" fill="#333"/>
<rect x="176.4" y="528" width="21" height="48" rx="3" fill="#333"/>
<rect x="221.3" y="467.6" width="21" height="48" rx="3" fill="#333"/>
<rect x="1074" y="468" width="21" height="48" rx="3" fill="#333"/>
<rect x="1117.9" y="528" width="21" height="48" rx="3" fill="#333"/>
<rect x="1153.5" y="601" width="21" height="48" rx="3" fill="#333"/>
<defs>
<linearGradient id="gTF" gradientUnits="userSpaceOnUse" x1="0" y1="240" x2="0" y2="380" gradientTransform="skewY(4.574)"><stop offset="0.0000" stop-color="#98a3d8"/><stop offset="0.3000" stop-color="#8e99cf"/><stop offset="0.3714" stop-color="#6f7cb6"/><stop offset="0.4143" stop-color="#4a5791"/><stop offset="0.4643" stop-color="#3f4c86"/><stop offset="0.5143" stop-color="#56639d"/><stop offset="0.5686" stop-color="#8e99cf"/><stop offset="0.6071" stop-color="#7986c0"/><stop offset="0.6500" stop-color="#45528b"/><stop offset="0.7143" stop-color="#3f4b85"/><stop offset="1.0000" stop-color="#46548a"/></linearGradient>
<linearGradient id="gTop" x1="0" y1="0" x2="0" y2="1"><stop offset="0" stop-color="#8f9ad0"/><stop offset="0.6" stop-color="#7d89c0"/><stop offset="1" stop-color="#6270aa"/></linearGradient>
<linearGradient id="gFront" gradientUnits="userSpaceOnUse" x1="0" y1="345" x2="0" y2="990"><stop offset="0" stop-color="#7582ba"/><stop offset="0.06" stop-color="#4b5891"/><stop offset="0.5" stop-color="#475589"/><stop offset="1" stop-color="#46548a"/></linearGradient>
<linearGradient id="gSide" x1="0" y1="0" x2="1" y2="0"><stop offset="0" stop-color="#6573a8"/><stop offset="1" stop-color="#6a78ab"/></linearGradient>
<linearGradient id="gRim" gradientUnits="userSpaceOnUse" x1="740" y1="0" x2="802" y2="0"><stop offset="0.0000" stop-color="#455387"/><stop offset="0.0806" stop-color="#3c4a82"/><stop offset="0.2258" stop-color="#36437b"/><stop offset="0.2581" stop-color="#23316a"/><stop offset="0.3387" stop-color="#25336b"/><stop offset="0.3871" stop-color="#37457c"/><stop offset="0.8065" stop-color="#3c4982"/><stop offset="0.9194" stop-color="#33407a"/><stop offset="0.9677" stop-color="#5a68a0"/><stop offset="1.0000" stop-color="#6573a8"/></linearGradient>
<linearGradient id="gFin" x1="0" y1="0" x2="0" y2="1"><stop offset="0" stop-color="#8791cc"/><stop offset="1" stop-color="#6e7aba"/></linearGradient>
<linearGradient id="gBase" x1="0" y1="0" x2="0" y2="1"><stop offset="0" stop-color="#8a95cf"/><stop offset="1" stop-color="#7480bf"/></linearGradient>
<radialGradient id="gHole" cx="0.6" cy="0.4" r="0.6"><stop offset="0" stop-color="#2a2a2a"/><stop offset="1" stop-color="#050505"/></radialGradient>
</defs>
<path d="M420,364 Q420,347 436,346 L782,279 L905,288.5 Q911.5,290 911.5,297 L904.5,880 L904,906 Q903,913 897.4,913 L858,908 L769.7,981.8 Q764,988 757,988 L712,989 L704,994.3 L495.3,963.4 Q483.2,962 483.2,952 L483.2,949.5 L463,948 Q444.5,946 444,923 L444,908 L440.5,908 Q428,906 427.9,893 Z" fill="#4b5891"/>
<path d="M437,366 Q437,333 453,320 Q461,312 471,309 L520,288 L782,279 L862,289 L850,303 L786,379 L761,382 L460,356 Q440,355 437,366 Z" fill="url(#gTF)"/>
<path d="M437,366 Q440,348 462,349 L757,372 Q765,375 765,390 L766,988 L712,989 L704,994.3 L495.3,963.4 Q483.2,962 483.2,952 L483.2,949.5 L463,948 Q444.5,946 444,923 Z" fill="url(#gTF)"/>
<path d="M437.8,362 L442.3,905" stroke="#6f7db4" stroke-width="1.8" opacity="0.9"/>
<path d="M740,384 Q743,355 758,350 Q772,348 786,372 L803,392 L802,952 L769.7,981.8 Q764,988 757,988 L741,988 Z" fill="url(#gRim)"/>
<ellipse cx="751" cy="368" rx="1.6" ry="5" fill="#9aa6dc" opacity="0.85"/>
<path d="M763,380 Q768,384 772,386 M776,390 L787,393 M792,391.5 L795,391" stroke="#c4ccf2" stroke-width="2.4" stroke-linecap="round" fill="none"/>
<defs><linearGradient id="gBand" gradientUnits="userSpaceOnUse" x1="835" y1="315" x2="850" y2="340"><stop offset="0" stop-color="#7380bb"/><stop offset="1" stop-color="#56639f"/></linearGradient></defs><path d="M765,366 L862,292 L880,300 L903,332 L806,388 L786,379 Z" fill="url(#gBand)"/>
<path d="M801,390 L902.5,331 L896,875.3 L858,908 L801,955 Z" fill="url(#gSide)"/>
<defs><linearGradient id="gTR" gradientUnits="userSpaceOnUse" x1="812.1" y1="322.3" x2="830" y2="352.4"><stop offset="0" stop-color="#5d6aa5" stop-opacity="0"/><stop offset="1" stop-color="#5d6aa5" stop-opacity="0.85"/></linearGradient><clipPath id="cTR"><path d="M782,279 L862,289 L850,303 L786,379 L740,379 L740,279 Z"/></clipPath><filter id="fBl" x="-20%" y="-20%" width="140%" height="140%"><feGaussianBlur stdDeviation="5"/></filter></defs>
<g clip-path="url(#cTR)"><path d="M760,300 L880,300 L850,303 L786,379 L760,385 Z" fill="url(#gTR)" filter="url(#fBl)"/></g>
<path d="M785,279.5 L903,289.5" stroke="#a3addf" stroke-width="1.6" opacity="0.8"/>
<path d="M862,289 L905,290 L903,332 L876,326 L850,303 Z" fill="#3e4a84"/>
<ellipse cx="888.5" cy="307.5" rx="4.5" ry="5.5" fill="#fff"/>
<ellipse cx="887" cy="308.5" rx="3" ry="4" fill="#9aa3c8"/>
<path d="M876,325 L787,378" stroke="#2f3b75" stroke-width="2.4"/>
<path d="M765,365.5 L861,293" stroke="#a5afe0" stroke-width="1.6" opacity="0.75"/><path d="M870,321 L783,373" stroke="#8a96cf" stroke-width="1.4" opacity="0.6"/>
<path d="M858,908 L896,875.3 L904,878 L903.5,906 Q903,913 897.4,913 Z" fill="#2d3a7e"/>
<ellipse cx="884.5" cy="895.3" rx="5.2" ry="6.3" fill="#fff"/>
<ellipse cx="882.3" cy="897.5" rx="3.6" ry="4.5" fill="#8b95c6"/>
<path d="M508.3,311.8 L747.6,328.8 L722,347.5 L497,331.5 Z" fill="#d3d5de"/>
<path d="M509,311.8 L555,315.1 L550,323.1 L504,319.8 Z" fill="#1c6b3e"/>
<path d="M555,315.1 L594.4,317.9 L589.4,325.9 L550,323.1 Z" fill="#a8202a"/>
<path d="M594.4,317.9 L631.5,320.6 L626.5,328.6 L589.4,325.9 Z" fill="#2a2630"/>
<path d="M631.5,320.6 L667.5,323.1 L662.5,331.1 L626.5,328.6 Z" fill="#2a2630"/>
<path d="M667.5,323.1 L703.5,325.7 L698.5,333.7 L662.5,331.1 Z" fill="#b81e28"/>
<path d="M703.5,325.7 L746,328.7 L741,336.7 L698.5,333.7 Z" fill="#1c6b3e"/>
<text x="516.5" y="320.5" textLength="25" lengthAdjust="spacingAndGlyphs" transform="rotate(4.1 529 320.5)" style="font-weight:bold;fill:#fff;font-size:9px">OH</text>
<text x="558.0" y="323.2" textLength="20" lengthAdjust="spacingAndGlyphs" transform="rotate(4.1 568 323.2)" style="font-weight:bold;fill:#fff;font-size:9px">OL</text>
<text x="600.0" y="325.8" textLength="8" lengthAdjust="spacingAndGlyphs" transform="rotate(4.1 604 325.8)" style="font-weight:bold;fill:#fff;font-size:9px">C</text>
<text x="637.0" y="328.4" textLength="8" lengthAdjust="spacingAndGlyphs" transform="rotate(4.1 641 328.4)" style="font-weight:bold;fill:#fff;font-size:9px">C</text>
<text x="671.0" y="331.3" textLength="20" lengthAdjust="spacingAndGlyphs" transform="rotate(4.1 681 331.3)" style="font-weight:bold;fill:#fff;font-size:9px">UL</text>
<text x="705.5" y="333.9" textLength="25" lengthAdjust="spacingAndGlyphs" transform="rotate(4.1 718 333.9)" style="font-weight:bold;fill:#fff;font-size:9px">UH</text>
<text x="512" y="328.5" transform="rotate(4.2 512 328.5)" textLength="80" lengthAdjust="spacingAndGlyphs" style="font-weight:bold;fill:#1a1a1a;font-size:8.2px">OVER HEAD TANK</text>
<text x="616" y="336.5" transform="rotate(4.2 616 336.5)" textLength="103" lengthAdjust="spacingAndGlyphs" style="font-weight:bold;fill:#1a1a1a;font-size:8.2px">UNDER GROUND TANK</text>
<path d="M525.9,279.0 L561.6,281.5 L561.6,311.0 L525.9,308.5 Z" fill="#7480bf"/>
<path d="M527.9,279.5 L560.6,282.0" stroke="#b9c1ea" stroke-width="1.6"/>
<path d="M531.9,255.0 L558.6,253.0 L558.6,282.0 L531.9,280.0 Z" fill="#525d9c"/>
<ellipse cx="547.9" cy="276.0" rx="9" ry="4.2" fill="#343a58"/>
<ellipse cx="547.9" cy="273.0" rx="8" ry="3.6" fill="#8d97b5"/>
<ellipse cx="547.9" cy="270.0" rx="7.5" ry="3.4" fill="#3b4262"/>
<ellipse cx="548.9" cy="266.0" rx="6" ry="3.2" fill="#c8d0e2"/>
<ellipse cx="548.9" cy="262.0" rx="5" ry="3" fill="#6f7896"/>
<ellipse cx="549.9" cy="260.0" rx="3.2" ry="2.2" fill="#eef2fa"/>
<rect x="542.9" y="277.0" width="13" height="2.2" fill="#e9edf8"/>
<path d="M522.9,284.0 L522.9,250.0 Q522.9,241.5 530.9,240.5 L550.9,237.0 Q555.9,236.5 556.3,241.0 L556.3,250.0 L558.4,250.0 L558.4,256.0 Q545.9,250.0 539.9,262.0 L533.9,278.0 L527.9,284.0 Z" fill="#6d78bb"/>
<path d="M524.9,246.0 Q525.9,241.5 531.9,241.0 L550.9,237.8" stroke="#9ea8dc" stroke-width="1.6" fill="none"/>
<path d="M519.9,253.0 L527.9,253.0 L527.9,309.0 L519.9,308.0 Z" fill="#7c87c5"/>
<path d="M521.4,254.0 L521.4,308.0" stroke="#a9b2e2" stroke-width="1.2"/>
<path d="M557.1,256.0 L557.1,311.0" stroke="#46519a" stroke-width="1.3"/>
<path d="M563.6,281.9 L599.4,284.4 L599.4,313.9 L563.6,311.4 Z" fill="#7480bf"/>
<path d="M565.6,282.4 L598.4,284.9" stroke="#b9c1ea" stroke-width="1.6"/>
<path d="M569.6,257.9 L596.4,255.9 L596.4,284.9 L569.6,282.9 Z" fill="#525d9c"/>
<ellipse cx="585.6" cy="278.9" rx="9" ry="4.2" fill="#343a58"/>
<ellipse cx="585.6" cy="275.9" rx="8" ry="3.6" fill="#8d97b5"/>
<ellipse cx="585.6" cy="272.9" rx="7.5" ry="3.4" fill="#3b4262"/>
<ellipse cx="586.6" cy="268.9" rx="6" ry="3.2" fill="#c8d0e2"/>
<ellipse cx="586.6" cy="264.9" rx="5" ry="3" fill="#6f7896"/>
<ellipse cx="587.6" cy="262.9" rx="3.2" ry="2.2" fill="#eef2fa"/>
<rect x="580.6" y="279.9" width="13" height="2.2" fill="#e9edf8"/>
<path d="M560.6,286.9 L560.6,252.9 Q560.6,244.4 568.6,243.4 L588.6,239.9 Q593.6,239.4 594.0,243.9 L594.0,252.9 L596.1,252.9 L596.1,258.9 Q583.6,252.9 577.6,264.9 L571.6,280.9 L565.6,286.9 Z" fill="#6d78bb"/>
<path d="M562.6,248.9 Q563.6,244.4 569.6,243.9 L588.6,240.7" stroke="#9ea8dc" stroke-width="1.6" fill="none"/>
<path d="M557.6,255.9 L565.6,255.9 L565.6,311.9 L557.6,310.9 Z" fill="#7c87c5"/>
<path d="M559.1,256.9 L559.1,310.9" stroke="#a9b2e2" stroke-width="1.2"/>
<path d="M594.9,258.9 L594.9,313.9" stroke="#46519a" stroke-width="1.3"/>
<path d="M601.4,284.8 L637.1,287.3 L637.1,316.8 L601.4,314.3 Z" fill="#7480bf"/>
<path d="M603.4,285.3 L636.1,287.8" stroke="#b9c1ea" stroke-width="1.6"/>
<path d="M607.4,260.8 L634.1,258.8 L634.1,287.8 L607.4,285.8 Z" fill="#525d9c"/>
<ellipse cx="623.4" cy="281.8" rx="9" ry="4.2" fill="#343a58"/>
<ellipse cx="623.4" cy="278.8" rx="8" ry="3.6" fill="#8d97b5"/>
<ellipse cx="623.4" cy="275.8" rx="7.5" ry="3.4" fill="#3b4262"/>
<ellipse cx="624.4" cy="271.8" rx="6" ry="3.2" fill="#c8d0e2"/>
<ellipse cx="624.4" cy="267.8" rx="5" ry="3" fill="#6f7896"/>
<ellipse cx="625.4" cy="265.8" rx="3.2" ry="2.2" fill="#eef2fa"/>
<rect x="618.4" y="282.8" width="13" height="2.2" fill="#e9edf8"/>
<path d="M598.4,289.8 L598.4,255.8 Q598.4,247.3 606.4,246.3 L626.4,242.8 Q631.4,242.3 631.8,246.8 L631.8,255.8 L633.9,255.8 L633.9,261.8 Q621.4,255.8 615.4,267.8 L609.4,283.8 L603.4,289.8 Z" fill="#6d78bb"/>
<path d="M600.4,251.8 Q601.4,247.3 607.4,246.8 L626.4,243.6" stroke="#9ea8dc" stroke-width="1.6" fill="none"/>
<path d="M595.4,258.8 L603.4,258.8 L603.4,314.8 L595.4,313.8 Z" fill="#7c87c5"/>
<path d="M596.9,259.8 L596.9,313.8" stroke="#a9b2e2" stroke-width="1.2"/>
<path d="M632.6,261.8 L632.6,316.8" stroke="#46519a" stroke-width="1.3"/>
<path d="M639.1,287.7 L674.9,290.2 L674.9,319.7 L639.1,317.2 Z" fill="#7480bf"/>
<path d="M641.1,288.2 L673.9,290.7" stroke="#b9c1ea" stroke-width="1.6"/>
<path d="M645.1,263.7 L671.9,261.7 L671.9,290.7 L645.1,288.7 Z" fill="#525d9c"/>
<ellipse cx="661.1" cy="284.7" rx="9" ry="4.2" fill="#343a58"/>
<ellipse cx="661.1" cy="281.7" rx="8" ry="3.6" fill="#8d97b5"/>
<ellipse cx="661.1" cy="278.7" rx="7.5" ry="3.4" fill="#3b4262"/>
<ellipse cx="662.1" cy="274.7" rx="6" ry="3.2" fill="#c8d0e2"/>
<ellipse cx="662.1" cy="270.7" rx="5" ry="3" fill="#6f7896"/>
<ellipse cx="663.1" cy="268.7" rx="3.2" ry="2.2" fill="#eef2fa"/>
<rect x="656.1" y="285.7" width="13" height="2.2" fill="#e9edf8"/>
<path d="M636.1,292.7 L636.1,258.7 Q636.1,250.2 644.1,249.2 L664.1,245.7 Q669.1,245.2 669.5,249.7 L669.5,258.7 L671.6,258.7 L671.6,264.7 Q659.1,258.7 653.1,270.7 L647.1,286.7 L641.1,292.7 Z" fill="#6d78bb"/>
<path d="M638.1,254.7 Q639.1,250.2 645.1,249.7 L664.1,246.5" stroke="#9ea8dc" stroke-width="1.6" fill="none"/>
<path d="M633.1,261.7 L641.1,261.7 L641.1,317.7 L633.1,316.7 Z" fill="#7c87c5"/>
<path d="M634.6,262.7 L634.6,316.7" stroke="#a9b2e2" stroke-width="1.2"/>
<path d="M670.4,264.7 L670.4,319.7" stroke="#46519a" stroke-width="1.3"/>
<path d="M676.9,290.6 L712.6,293.1 L712.6,322.6 L676.9,320.1 Z" fill="#7480bf"/>
<path d="M678.9,291.1 L711.6,293.6" stroke="#b9c1ea" stroke-width="1.6"/>
<path d="M682.9,266.6 L709.6,264.6 L709.6,293.6 L682.9,291.6 Z" fill="#525d9c"/>
<ellipse cx="698.9" cy="287.6" rx="9" ry="4.2" fill="#343a58"/>
<ellipse cx="698.9" cy="284.6" rx="8" ry="3.6" fill="#8d97b5"/>
<ellipse cx="698.9" cy="281.6" rx="7.5" ry="3.4" fill="#3b4262"/>
<ellipse cx="699.9" cy="277.6" rx="6" ry="3.2" fill="#c8d0e2"/>
<ellipse cx="699.9" cy="273.6" rx="5" ry="3" fill="#6f7896"/>
<ellipse cx="700.9" cy="271.6" rx="3.2" ry="2.2" fill="#eef2fa"/>
<rect x="693.9" y="288.6" width="13" height="2.2" fill="#e9edf8"/>
<path d="M673.9,295.6 L673.9,261.6 Q673.9,253.1 681.9,252.1 L701.9,248.6 Q706.9,248.1 707.3,252.6 L707.3,261.6 L709.4,261.6 L709.4,267.6 Q696.9,261.6 690.9,273.6 L684.9,289.6 L678.9,295.6 Z" fill="#6d78bb"/>
<path d="M675.9,257.6 Q676.9,253.1 682.9,252.6 L701.9,249.4" stroke="#9ea8dc" stroke-width="1.6" fill="none"/>
<path d="M670.9,264.6 L678.9,264.6 L678.9,320.6 L670.9,319.6 Z" fill="#7c87c5"/>
<path d="M672.4,265.6 L672.4,319.6" stroke="#a9b2e2" stroke-width="1.2"/>
<path d="M708.1,267.6 L708.1,322.6" stroke="#46519a" stroke-width="1.3"/>
<path d="M714.6,293.5 L750.4,296.0 L750.4,325.5 L714.6,323.0 Z" fill="#7480bf"/>
<path d="M716.6,294.0 L749.4,296.5" stroke="#b9c1ea" stroke-width="1.6"/>
<path d="M720.6,269.5 L747.4,267.5 L747.4,296.5 L720.6,294.5 Z" fill="#525d9c"/>
<ellipse cx="736.6" cy="290.5" rx="9" ry="4.2" fill="#343a58"/>
<ellipse cx="736.6" cy="287.5" rx="8" ry="3.6" fill="#8d97b5"/>
<ellipse cx="736.6" cy="284.5" rx="7.5" ry="3.4" fill="#3b4262"/>
<ellipse cx="737.6" cy="280.5" rx="6" ry="3.2" fill="#c8d0e2"/>
<ellipse cx="737.6" cy="276.5" rx="5" ry="3" fill="#6f7896"/>
<ellipse cx="738.6" cy="274.5" rx="3.2" ry="2.2" fill="#eef2fa"/>
<rect x="731.6" y="291.5" width="13" height="2.2" fill="#e9edf8"/>
<path d="M711.6,298.5 L711.6,264.5 Q711.6,256.0 719.6,255.0 L739.6,251.5 Q744.6,251.0 745.0,255.5 L745.0,264.5 L747.1,264.5 L747.1,270.5 Q734.6,264.5 728.6,276.5 L722.6,292.5 L716.6,298.5 Z" fill="#6d78bb"/>
<path d="M713.6,260.5 Q714.6,256.0 720.6,255.5 L739.6,252.3" stroke="#9ea8dc" stroke-width="1.6" fill="none"/>
<path d="M708.6,267.5 L716.6,267.5 L716.6,323.5 L708.6,322.5 Z" fill="#7c87c5"/>
<path d="M710.1,268.5 L710.1,322.5" stroke="#a9b2e2" stroke-width="1.2"/>
<path d="M745.9,270.5 L745.9,325.5" stroke="#46519a" stroke-width="1.3"/>
<path d="M746.5,330 L746.5,268 L750.7,262 Q751,256 757,255.5 L777,254.5 Q782,254.5 782,260 L782,318 L762,328.5 Z" fill="#6e7abb"/>
<path d="M753,292 L780,287 L780,318 L762,328.5 L753,329 Z" fill="#5d68a6"/>
<path d="M753,257 Q754,256 758,255.8 L777,255" stroke="#a0a9dc" stroke-width="1.4" fill="none"/>
<ellipse cx="757.5" cy="309" rx="2.2" ry="3.2" fill="#2c3366"/><ellipse cx="768" cy="300" rx="3.4" ry="4.5" fill="#3a4275"/><ellipse cx="776.5" cy="300.5" rx="2" ry="3" fill="#2c3366"/>
</svg>
<div class="abs" style="width:1334px;height:1334px;transform-origin:0 0;transform:matrix3d(0.9534621001,0.06912663077,0,-5.902667994e-05,0.04267238538,0.9797825482,0,6.044247221e-05,0,0,1,0,3.434735072,-26.67863763,0,1)">
<svg width="1334" height="1334" viewBox="0 0 1334 1334">
<rect x="470" y="378.5" width="236" height="429.5" rx="5" fill="#0c0e16"/>
<rect x="478" y="388.5" width="217.5" height="410.3" fill="#dfe1f6"/>
<circle cx="533.8" cy="401.5" r="7.2" fill="#4a0c0c"/><circle cx="533.8" cy="401.5" r="5.9" fill="#ff1410"/>
<circle cx="562.5" cy="401.5" r="7.2" fill="#4a0c0c"/><circle cx="562.5" cy="401.5" r="5.9" fill="#ff1410"/>
<circle cx="609.6" cy="401.5" r="7.2" fill="#4a0c0c"/><circle cx="609.6" cy="401.5" r="5.9" fill="#ff1410"/>
<circle cx="639.9" cy="401.5" r="7.2" fill="#4a0c0c"/><circle cx="639.9" cy="401.5" r="5.9" fill="#ff1410"/>
<text x="533.7" y="423.5" text-anchor="middle" style="font-weight:bold;fill:#23306e;stroke:#23306e;stroke-width:0.55px;font-size:15px">V</text>
<text x="562.9" y="423.5" text-anchor="middle" style="font-weight:bold;fill:#23306e;stroke:#23306e;stroke-width:0.55px;font-size:15px">A</text>
<text x="588.5" y="423.5" textLength="37.5" lengthAdjust="spacingAndGlyphs" style="font-weight:bold;fill:#23306e;stroke:#23306e;stroke-width:0.55px;font-size:15px">AUTO</text>
<text x="633" y="423.5" textLength="21" lengthAdjust="spacingAndGlyphs" style="font-weight:bold;fill:#23306e;stroke:#23306e;stroke-width:0.55px;font-size:15px">ON</text>
<circle cx="490" cy="452.2" r="7" fill="#1c4a1c"/><circle cx="490" cy="452.2" r="5.9" fill="#27e02e"/>
<circle cx="490.4" cy="503" r="7" fill="#4a0c0c"/><circle cx="490.4" cy="503" r="5.9" fill="#ff1a12"/>
<circle cx="675.1" cy="449.7" r="7" fill="#1c4a1c"/><circle cx="675.1" cy="449.7" r="5.9" fill="#27e02e"/>
<circle cx="674.6" cy="501.5" r="7" fill="#4a0c0c"/><circle cx="674.6" cy="501.5" r="5.9" fill="#ff1a12"/>
<text x="490.3" y="474" text-anchor="middle" style="font-weight:bold;fill:#23306e;stroke:#23306e;stroke-width:0.45px;font-size:13px">OH</text>
<text x="490.2" y="524.5" text-anchor="middle" style="font-weight:bold;fill:#23306e;stroke:#23306e;stroke-width:0.45px;font-size:13px">OL</text>
<text x="677.9" y="472" text-anchor="middle" style="font-weight:bold;fill:#23306e;stroke:#23306e;stroke-width:0.45px;font-size:13px">UH</text>
<text x="677.4" y="522.5" text-anchor="middle" style="font-weight:bold;fill:#23306e;stroke:#23306e;stroke-width:0.45px;font-size:13px">UL</text>
<text x="675.6" y="430" text-anchor="middle" style="font-weight:bold;fill:#23306e;stroke:#23306e;stroke-width:0.45px;font-size:13px;font-size:15px">V</text>
<text x="674.9" y="580" text-anchor="middle" style="font-weight:bold;fill:#23306e;stroke:#23306e;stroke-width:0.45px;font-size:13px;font-size:15px">A</text>
<path d="M669.5,434 Q672.5,431.5 675.5,434 T681.5,434.5" stroke="#23306e" stroke-width="0.9" fill="none"/>
<path d="M669.5,584 Q672.5,581.5 675.5,584 T681.5,584.5" stroke="#23306e" stroke-width="0.9" fill="none"/>
<rect x="504.5" y="434.5" width="161.2" height="81.3" rx="4" fill="#040404"/>
<polygon points="523.86,443.50 557.76,443.50 549.86,451.10 531.16,451.10" fill="#3ef23c"/><polygon points="526.35,476.25 530.30,472.45 549.00,472.45 552.65,476.25 548.70,480.05 530.00,480.05" fill="#3ef23c"/><polygon points="529.14,501.40 547.84,501.40 555.14,509.00 521.24,509.00" fill="#3ef23c"/><polygon points="523.29,444.05 530.58,451.65 529.77,471.90 525.82,475.70 522.17,471.90" fill="#666"/><polygon points="558.29,444.05 557.17,471.90 553.22,475.70 549.57,471.90 550.38,451.65" fill="#3ef23c"/><polygon points="521.83,480.60 525.78,476.80 529.43,480.60 528.62,500.85 520.71,508.45" fill="#3ef23c"/><polygon points="556.83,480.60 555.71,508.45 548.42,500.85 549.23,480.60 553.18,476.80" fill="#666"/>
<polygon points="570.86,443.50 604.76,443.50 596.86,451.10 578.16,451.10" fill="#3ef23c"/><polygon points="573.35,476.25 577.30,472.45 596.00,472.45 599.65,476.25 595.70,480.05 577.00,480.05" fill="#3ef23c"/><polygon points="576.14,501.40 594.84,501.40 602.14,509.00 568.24,509.00" fill="#3ef23c"/><polygon points="570.29,444.05 577.58,451.65 576.77,471.90 572.82,475.70 569.17,471.90" fill="#666"/><polygon points="605.29,444.05 604.17,471.90 600.22,475.70 596.57,471.90 597.38,451.65" fill="#3ef23c"/><polygon points="568.83,480.60 572.78,476.80 576.43,480.60 575.62,500.85 567.71,508.45" fill="#666"/><polygon points="603.83,480.60 602.71,508.45 595.42,500.85 596.23,480.60 600.18,476.80" fill="#3ef23c"/>
<polygon points="617.86,443.50 651.76,443.50 643.86,451.10 625.16,451.10" fill="#3ef23c"/><polygon points="620.35,476.25 624.30,472.45 643.00,472.45 646.65,476.25 642.70,480.05 624.00,480.05" fill="#666"/><polygon points="623.14,501.40 641.84,501.40 649.14,509.00 615.24,509.00" fill="#3ef23c"/><polygon points="617.29,444.05 624.58,451.65 623.77,471.90 619.82,475.70 616.17,471.90" fill="#3ef23c"/><polygon points="652.29,444.05 651.17,471.90 647.22,475.70 643.57,471.90 644.38,451.65" fill="#3ef23c"/><polygon points="615.83,480.60 619.78,476.80 623.43,480.60 622.62,500.85 614.71,508.45" fill="#3ef23c"/><polygon points="650.83,480.60 649.71,508.45 642.42,500.85 643.23,480.60 647.18,476.80" fill="#3ef23c"/>
<rect x="521.20" y="519.50" width="16.00" height="4.23" fill="#23306e"/><rect x="523.12" y="522.32" width="12.16" height="8.46" fill="#23306e"/><rect x="522.80" y="530.22" width="12.80" height="3.38" fill="#23306e"/><path d="M525.19,530.22 L525.59,523.73 L529.36,529.57 L533.13,523.73 L533.53,530.22" fill="none" stroke="#dfe1f6" stroke-width="1.60" stroke-linejoin="miter"/><path d="M524.40,523.92 H526.58 M532.14,523.92 H534.32" stroke="#dfe1f6" stroke-width="0.96"/>
<text class="serif" x="541" y="531" textLength="101" lengthAdjust="spacingAndGlyphs" style="font-weight:bold;fill:#23306e;font-size:13.5px">Mivan Technologies</text>
<rect x="505" y="539.7" width="160.5" height="78.9" rx="4" fill="#040404"/>
<polygon points="520.82,546.50 554.72,546.50 546.82,554.10 528.12,554.10" fill="#3ef23c"/><polygon points="523.35,578.25 527.30,574.45 546.00,574.45 549.65,578.25 545.70,582.05 527.00,582.05" fill="#3ef23c"/><polygon points="526.18,602.40 544.88,602.40 552.18,610.00 518.28,610.00" fill="#3ef23c"/><polygon points="520.25,547.05 527.54,554.65 526.77,573.90 522.82,577.70 519.17,573.90" fill="#666"/><polygon points="555.25,547.05 554.17,573.90 550.22,577.70 546.57,573.90 547.34,554.65" fill="#3ef23c"/><polygon points="518.83,582.60 522.78,578.80 526.43,582.60 525.66,601.85 517.75,609.45" fill="#666"/><polygon points="553.83,582.60 552.75,609.45 545.46,601.85 546.23,582.60 550.18,578.80" fill="#3ef23c"/>
<polygon points="569.82,546.50 603.72,546.50 595.82,554.10 577.12,554.10" fill="#3ef23c"/><polygon points="572.35,578.25 576.30,574.45 595.00,574.45 598.65,578.25 594.70,582.05 576.00,582.05" fill="#666"/><polygon points="575.18,602.40 593.88,602.40 601.18,610.00 567.28,610.00" fill="#3ef23c"/><polygon points="569.25,547.05 576.54,554.65 575.77,573.90 571.82,577.70 568.17,573.90" fill="#3ef23c"/><polygon points="604.25,547.05 603.17,573.90 599.22,577.70 595.57,573.90 596.34,554.65" fill="#3ef23c"/><polygon points="567.83,582.60 571.78,578.80 575.43,582.60 574.66,601.85 566.75,609.45" fill="#3ef23c"/><polygon points="602.83,582.60 601.75,609.45 594.46,601.85 595.23,582.60 599.18,578.80" fill="#3ef23c"/>
<polygon points="619.82,546.50 653.72,546.50 645.82,554.10 627.12,554.10" fill="#3ef23c"/><polygon points="622.35,578.25 626.30,574.45 645.00,574.45 648.65,578.25 644.70,582.05 626.00,582.05" fill="#666"/><polygon points="625.18,602.40 643.88,602.40 651.18,610.00 617.28,610.00" fill="#3ef23c"/><polygon points="619.25,547.05 626.54,554.65 625.77,573.90 621.82,577.70 618.17,573.90" fill="#3ef23c"/><polygon points="654.25,547.05 653.17,573.90 649.22,577.70 645.57,573.90 646.34,554.65" fill="#3ef23c"/><polygon points="617.83,582.60 621.78,578.80 625.43,582.60 624.66,601.85 616.75,609.45" fill="#3ef23c"/><polygon points="652.83,582.60 651.75,609.45 644.46,601.85 645.23,582.60 649.18,578.80" fill="#3ef23c"/>
<circle cx="609.3" cy="606.5" r="3.6" fill="#3df23a"/>
<text x="523.5" y="648" style="font-weight:bold;fill:#23306e;stroke:#23306e;stroke-width:0.45px;font-size:13px;letter-spacing:-0.2px">AUTO</text>
<text x="613.5" y="648" style="font-weight:bold;fill:#23306e;stroke:#23306e;stroke-width:0.45px;font-size:13px;letter-spacing:-0.2px">MANUAL</text>
<rect x="564.4" y="631.7" width="43.2" height="21.3" fill="#111"/>
<rect x="570" y="634" width="19" height="17" fill="#2c2c2c"/>
<rect x="573" y="635" width="1.6" height="15" fill="#0b0b0b"/>
<rect x="577" y="635" width="1.6" height="15" fill="#0b0b0b"/>
<rect x="581" y="635" width="1.6" height="15" fill="#0b0b0b"/>
<rect x="585" y="635" width="1.6" height="15" fill="#0b0b0b"/>
<rect x="491" y="665" width="191" height="92" rx="6" fill="#0c0c10"/>
<defs><linearGradient id="gRed" x1="0" y1="0" x2="0" y2="1"><stop offset="0" stop-color="#f0382c"/><stop offset="1" stop-color="#dd1e16"/></linearGradient><linearGradient id="gGrn" x1="0" y1="0" x2="0" y2="1"><stop offset="0" stop-color="#22b08a"/><stop offset="1" stop-color="#0e9873"/></linearGradient></defs>
<rect x="500" y="677.7" width="81.5" height="71.5" rx="2" fill="url(#gRed)"/>
<rect x="589.5" y="677.3" width="81.5" height="71" rx="2" fill="url(#gGrn)"/>
<text x="505.5" y="772" style="font-weight:bold;fill:#23306e;stroke:#23306e;stroke-width:0.45px;font-size:10.5px">UP</text>
<path d="M528.8,773 L534,760.5 L539.2,773 L534,769.5 Z" fill="#23306e"/>
<rect x="571.5" y="762" width="26.5" height="29.5" rx="3" fill="none" stroke="#111" stroke-width="1.9"/>
<polygon points="590.90,771.50 588.95,773.26 589.08,775.88 586.46,775.75 584.70,777.70 582.94,775.75 580.32,775.88 580.45,773.26 578.50,771.50 580.45,769.74 580.32,767.12 582.94,767.25 584.70,765.30 586.46,767.25 589.08,767.12 588.95,769.74" fill="#23306e" stroke="#23306e" stroke-width="1.2" stroke-linejoin="round"/>
<circle cx="584.7" cy="771.5" r="2" fill="#dfe1f6"/>
<text x="585.2" y="789" text-anchor="middle" style="font-weight:bold;fill:#23306e;stroke:#23306e;stroke-width:0.35px;font-size:9px;letter-spacing:0.4px">SET</text>
<path d="M614,761.5 L619,773 L624,761.5 L619,765 Z" fill="#23306e"/>
<text x="630.5" y="773" style="font-weight:bold;fill:#23306e;stroke:#23306e;stroke-width:0.45px;font-size:10.5px">DOWN</text>
<rect x="489.00" y="848.60" width="25.00" height="7.92" fill="#fff"/><rect x="492.00" y="853.88" width="19.00" height="15.84" fill="#fff"/><rect x="491.50" y="868.66" width="20.00" height="6.34" fill="#fff"/><path d="M495.24,868.66 L495.86,856.52 L501.75,867.45 L507.64,856.52 L508.26,868.66" fill="none" stroke="#46548a" stroke-width="2.50" stroke-linejoin="miter"/><path d="M494.00,856.88 H497.41 M506.09,856.88 H509.50" stroke="#46548a" stroke-width="1.50"/>
<text class="serif" x="519" y="873" textLength="165" lengthAdjust="spacingAndGlyphs" style="font-weight:bold;fill:#fff;font-size:26.5px">Mivan Technologies</text>
<text x="686" y="860" text-anchor="middle" style="fill:#fff;font-size:15px">®</text>
<rect x="500" y="896" width="182" height="51" fill="none" stroke="#fff" stroke-width="2"/>
<path d="M500,923.5 H682 M591.6,896 V947 M544.1,923.5 V947 M637.4,923.5 V947" fill="none" stroke="#fff" stroke-width="2"/>
<text x="546" y="918" text-anchor="middle" style="fill:#fff;font-size:13.5px;font-weight:bold;letter-spacing:0.6px">INPUT</text>
<text x="640" y="920" text-anchor="middle" style="fill:#fff;font-size:13.5px;font-weight:bold;letter-spacing:0.6px">OUTPUT</text>
<text x="521.9" y="942" text-anchor="middle" style="font-weight:bold;fill:#fff;font-size:15px">P</text>
<text x="567.2" y="942" text-anchor="middle" style="font-weight:bold;fill:#fff;font-size:15px">N</text>
<text x="614.1" y="942" text-anchor="middle" style="font-weight:bold;fill:#fff;font-size:15px">P</text>
<text x="660" y="942" text-anchor="middle" style="font-weight:bold;fill:#fff;font-size:15px">N</text>
</svg></div>
<svg class="abs" width="1334" height="1334" viewBox="0 0 1334 1334">
<ellipse cx="523.6" cy="935.5" rx="14.8" ry="16" fill="url(#gHole)"/>
<path d="M529.6,926.5 Q535.6,931.5 534.6,938.5" stroke="#777" stroke-width="1.4" fill="none" opacity="0.7"/>
<ellipse cx="569.3" cy="941.5" rx="14.8" ry="16" fill="url(#gHole)"/>
<path d="M575.3,932.5 Q581.3,937.5 580.3,944.5" stroke="#777" stroke-width="1.4" fill="none" opacity="0.7"/>
<ellipse cx="615.2" cy="947.2" rx="14.8" ry="16" fill="url(#gHole)"/>
<path d="M621.2,938.2 Q627.2,943.2 626.2,950.2" stroke="#777" stroke-width="1.4" fill="none" opacity="0.7"/>
<ellipse cx="661" cy="953.5" rx="14.8" ry="16" fill="url(#gHole)"/>
<path d="M667,944.5 Q673,949.5 672,956.5" stroke="#777" stroke-width="1.4" fill="none" opacity="0.7"/>
<path d="M523.6,948 V1000" stroke="#f00" stroke-width="3.6"/>
<path d="M568.5,955 V1000 M621.1,947 V1000 M660.5,953 V1000" stroke="#353535" stroke-width="3.6"/>
</svg>
</body></html>
